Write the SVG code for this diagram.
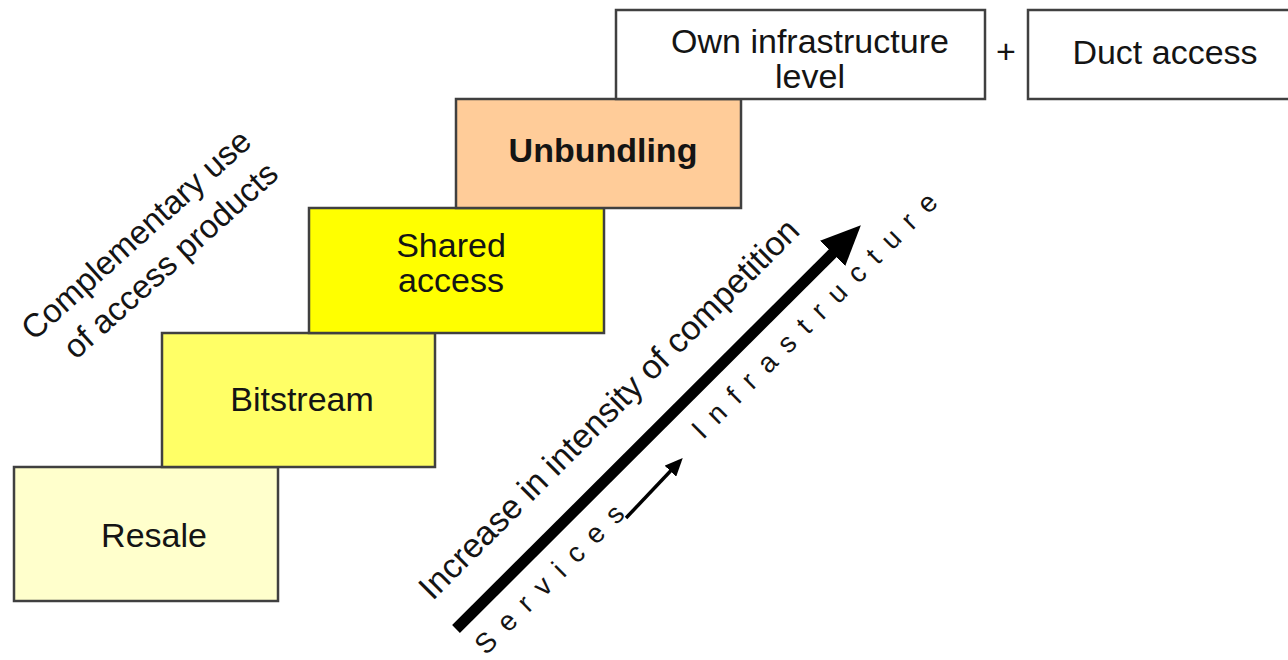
<svg xmlns="http://www.w3.org/2000/svg" width="1288" height="660" viewBox="0 0 1288 660">
  <defs>
    <style>
      .box { stroke: #404040; stroke-width: 2.5; }
      .lbl { font-family: "Liberation Sans", Arial, sans-serif; font-size: 34px; fill: #141414; text-anchor: middle; }
      .rot { font-family: "Liberation Sans", Arial, sans-serif; fill: #141414; }
      .spaced { font-family: "Liberation Sans", Arial, sans-serif; font-size: 28px; letter-spacing: 13px; fill: #141414; }
    </style>
    <marker id="headBig" markerUnits="userSpaceOnUse" markerWidth="40" markerHeight="36" viewBox="0 0 38 34" refX="10" refY="17" orient="auto">
      <path d="M0,0 L38,17 L0,34 z" fill="#000"/>
    </marker>
    <marker id="headSmall" markerUnits="userSpaceOnUse" markerWidth="18" markerHeight="16" viewBox="0 0 18 16" refX="14" refY="8" orient="auto">
      <path d="M0,0 L18,8 L0,16 z" fill="#000"/>
    </marker>
  </defs>

  <rect width="1288" height="660" fill="#fff"/>

  <!-- access ladder -->
  <g id="resale">
    <rect class="box" x="14" y="467" width="264" height="134" fill="#FFFFCC"/>
    <text class="lbl" x="154" y="547">Resale</text>
  </g>
  <g id="bitstream">
    <rect class="box" x="162" y="333" width="273" height="134" fill="#FFFF66"/>
    <text class="lbl" x="302" y="411">Bitstream</text>
  </g>
  <g id="shared-access">
    <rect class="box" x="309" y="208" width="295" height="125" fill="#FFFF00"/>
    <text class="lbl" x="451" y="257">Shared</text>
    <text class="lbl" x="451" y="292">access</text>
  </g>
  <g id="unbundling">
    <rect class="box" x="456" y="99" width="285" height="109" fill="#FFCC99"/>
    <text class="lbl" x="603" y="162" font-weight="bold">Unbundling</text>
  </g>
  <g id="own-infrastructure">
    <rect class="box" x="616" y="10" width="369" height="89" fill="#fff"/>
    <text class="lbl" x="810" y="53">Own infrastructure</text>
    <text class="lbl" x="810" y="88">level</text>
  </g>
  <g id="plus">
    <text class="lbl" x="1006" y="63">+</text>
  </g>
  <g id="duct-access">
    <rect class="box" x="1028" y="10" width="270" height="89" fill="#fff"/>
    <text class="lbl" x="1165" y="64" font-size="35">Duct access</text>
  </g>

  <!-- side label -->
  <g id="complementary">
    <text class="rot" font-size="33" text-anchor="middle" transform="translate(147,240) rotate(-42)">
      <tspan x="0" y="0">Complementary use</tspan>
      <tspan x="4" y="42">of access products</tspan>
    </text>
  </g>

  <!-- arrows -->
  <g id="connectors">
    <line x1="456" y1="629" x2="840" y2="246" stroke="#000" stroke-width="11" marker-end="url(#headBig)"/>
    <line x1="626" y1="518" x2="680" y2="461" stroke="#000" stroke-width="3.5" marker-end="url(#headSmall)"/>
  </g>

  <g id="competition">
    <text class="rot" font-size="34" text-anchor="middle" transform="translate(617,417) rotate(-45)">Increase in intensity of competition</text>
  </g>
  <g id="services-infrastructure">
    <g transform="translate(551,588) rotate(-45)">
      <text class="spaced" x="-94" y="2">Services</text>
      <text class="spaced" x="212" y="3">Infrastructure</text>
    </g>
  </g>
</svg>
